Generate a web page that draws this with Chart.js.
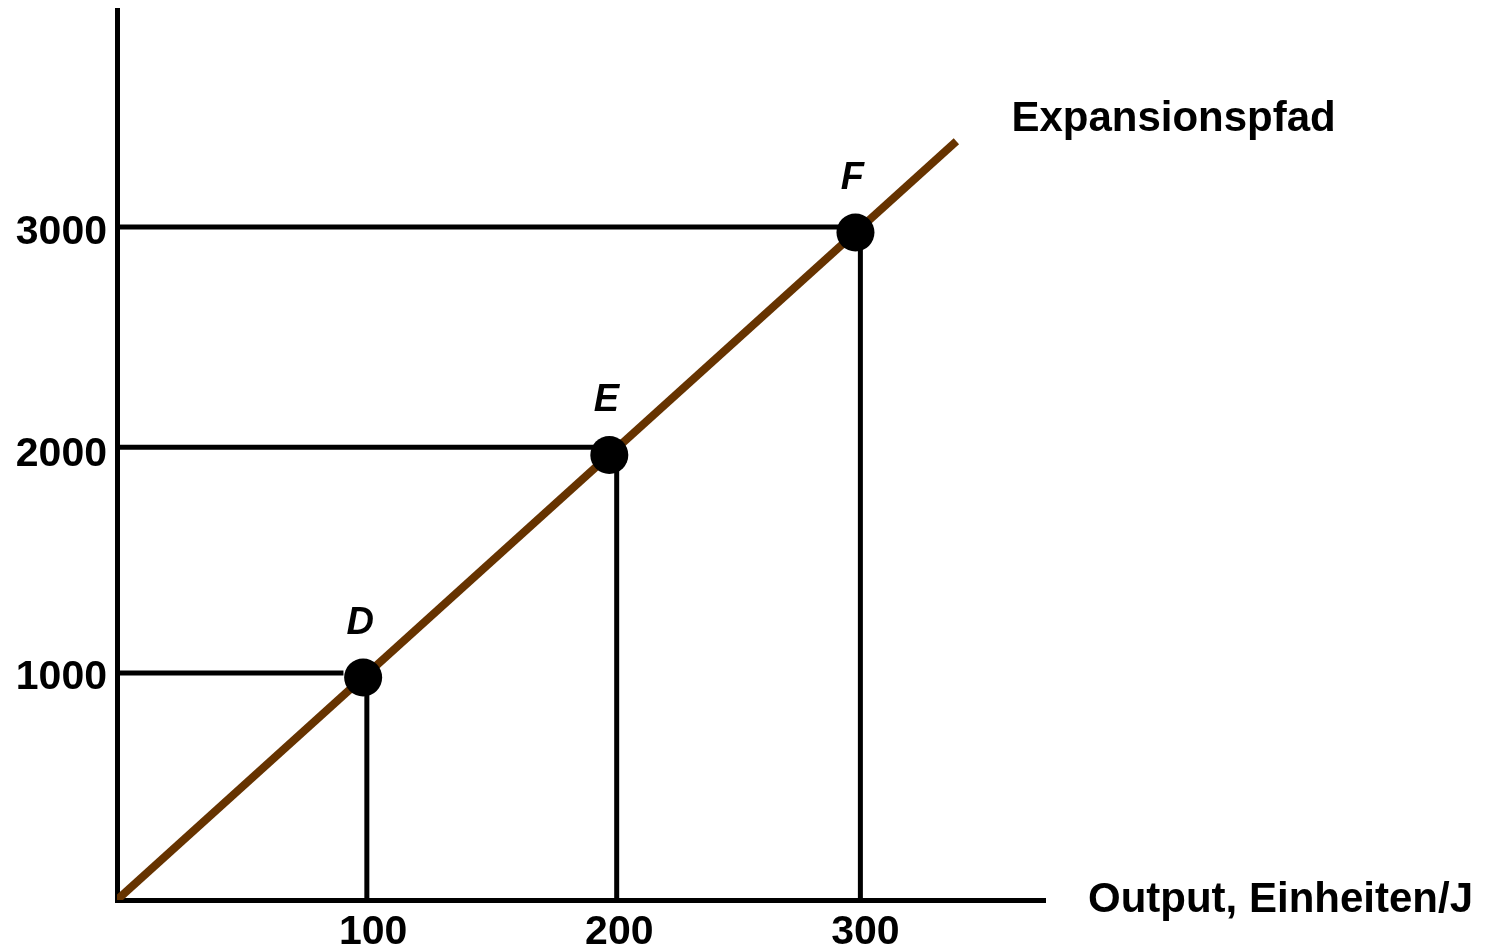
<!DOCTYPE html>
<html>
<head>
<meta charset="utf-8">
<script src="https://cdn.jsdelivr.net/npm/chart.js@4/dist/chart.umd.min.js"></script>
<style>
  html, body { margin: 0; padding: 0; background: #fff; }
  canvas { display: block; }
</style>
</head>
<body>
<canvas id="chart" width="1489" height="944"></canvas>
<script>
// Data
const X_TICKS = [100, 200, 300];
const Y_TICKS = [1000, 2000, 3000];
const POINT_NAMES = ['D', 'E', 'F'];
const POINT_X = [100, 200, 300];
const POINT_Y = [1000, 2000, 3000];
const PATH_X = [0, 341];
const PATH_Y = [0, 3410];
// guide lines: horizontal [y, xEnd], vertical [x, yStart]
const GUIDE_H_Y = [1020, 2035, 3025];
const GUIDE_H_END = [92, 200, 300];
const GUIDE_V_X = [101.5, 203, 302];
const GUIDE_V_TOP = [1000, 2000, 3000];
const X_MAX = 377;
const Y_MAX = 4000;
const PATH_LABEL = 'Expansionspfad';
const X_LABEL = 'Output, Einheiten/J';

const FONT = '"Liberation Sans", Arial, sans-serif';
const BROWN = '#663300';

const guideSets = [];
GUIDE_H_Y.forEach((y, i) => {
  guideSets.push({
    data: [{ x: 0, y }, { x: GUIDE_H_END[i], y }],
    borderColor: '#000', borderWidth: 5, showLine: true, pointRadius: 0, order: 3
  });
});
GUIDE_V_X.forEach((x, i) => {
  guideSets.push({
    data: [{ x, y: GUIDE_V_TOP[i] }, { x, y: 0 }],
    borderColor: '#000', borderWidth: 5, showLine: true, pointRadius: 0, order: 3
  });
});

const labelPlugin = {
  id: 'labels',
  afterDatasetsDraw(chart) {
    const { ctx, scales: { x, y } } = chart;
    ctx.save();
    ctx.fillStyle = '#000';
    ctx.textBaseline = 'middle';
    ctx.textAlign = 'center';
    ctx.font = `italic bold 38px ${FONT}`;
    POINT_NAMES.forEach((n, i) => {
      ctx.fillText(n, x.getPixelForValue(POINT_X[i]) - 3, y.getPixelForValue(POINT_Y[i]) - 54);
    });
    ctx.font = `bold 42px ${FONT}`;
    ctx.textAlign = 'left';
    ctx.fillText(PATH_LABEL, x.getPixelForValue(PATH_X[1]) + 55, y.getPixelForValue(PATH_Y[1]) - 22);
    ctx.fillText(X_LABEL, chart.chartArea.right + 43, y.getPixelForValue(0));
    ctx.restore();
  }
};

new Chart(document.getElementById('chart'), {
  type: 'scatter',
  data: {
    datasets: [
      ...guideSets,
      {
        data: PATH_X.map((x, i) => ({ x, y: PATH_Y[i] })),
        borderColor: BROWN, borderWidth: 8, showLine: true, pointRadius: 0, order: 2
      },
      {
        data: POINT_X.map((x, i) => ({ x, y: POINT_Y[i] })),
        backgroundColor: '#000', borderWidth: 0, pointRadius: 19, order: 1
      }
    ]
  },
  options: {
    responsive: false,
    animation: false,
    layout: { autoPadding: false, padding: { left: 0, top: 10, right: 444, bottom: 0 } },
    plugins: { legend: { display: false }, tooltip: { enabled: false } },
    scales: {
      x: {
        type: 'linear', min: 0, max: X_MAX,
        grid: { display: false, drawTicks: false },
        border: { display: true, color: '#000', width: 5 },
        afterBuildTicks: s => { s.ticks = X_TICKS.map(v => ({ value: v })); },
        afterFit: s => { s.height = 44; s.paddingLeft = 0; s.paddingRight = 0; },
        ticks: {
          color: '#000', padding: 8, maxRotation: 0, labelOffset: 10, callback: v => String(v),
          font: { family: FONT, size: 41, weight: 'bold' }
        }
      },
      y: {
        type: 'linear', min: 0, max: Y_MAX,
        grid: { display: false, drawTicks: false },
        border: { display: true, color: '#000', width: 5 },
        afterBuildTicks: s => { s.ticks = Y_TICKS.map(v => ({ value: v })); },
        afterFit: s => { s.width = 117; s.paddingTop = 0; s.paddingBottom = 0; },
        ticks: {
          color: '#000', padding: 10, callback: v => String(v),
          font: { family: FONT, size: 41, weight: 'bold' }
        }
      }
    }
  },
  plugins: [labelPlugin]
});
</script>
</body>
</html>
